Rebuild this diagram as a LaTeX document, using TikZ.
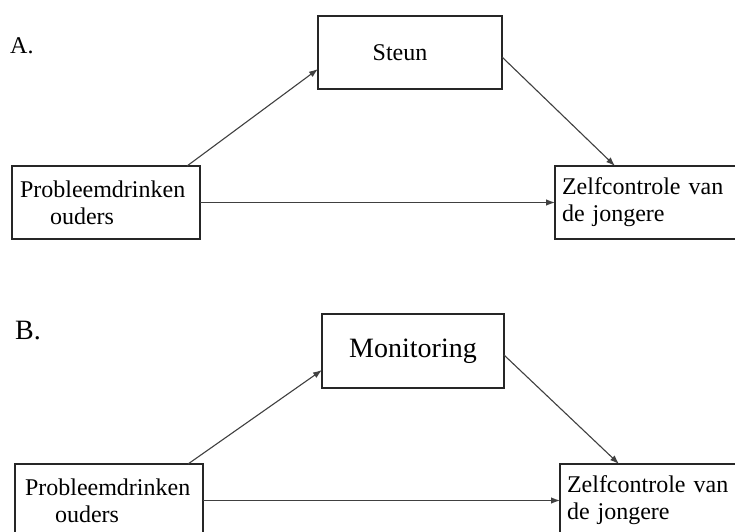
\documentclass[tikz,border=0pt]{standalone}
\usepackage{fontspec}
\setmainfont{Liberation Serif}
\usetikzlibrary{arrows.meta}
\begin{document}
\begin{tikzpicture}[x=1pt,y=-1pt,
  box/.style={draw=black!85, line width=2pt, fill=white, rectangle, outer sep=0pt,
    minimum height=73pt, text=black, font=\fontsize{24}{27}\selectfont},
  lbox/.style={box, align=left, inner xsep=#1, inner ysep=0pt},
  panel/.style={text=black, anchor=base west, inner sep=0pt},
  conn/.style={draw=black!75, line width=1.1pt, -{Latex[length=9pt,width=6.5pt]}}]
\useasboundingbox (0,0) rectangle (735,531);
\clip (0,0) rectangle (735,531);
\fill[white] (0,0) rectangle (735,531);
% Panel A
\node[panel, font=\fontsize{24}{27}\selectfont] (labA) at (10,53) {A.};
\node[box, minimum width=184pt] (steun) at (410,52.5) {Steun\hspace*{20pt}};
\node[lbox=8pt, minimum width=188pt, text width=172pt] (pA) at (106,202.5) {Probleemdrinken\\\hspace*{30pt}ouders};
\node[lbox=7pt, minimum width=190pt, text width=176pt] (zA) at (650,202.5) {Zelfcontrole van\\de jongere};
\draw[conn] ([xshift=175pt]pA.north west) -- ([yshift=20pt]steun.south west);
\draw[conn] ([yshift=-41pt]steun.north east) -- ([xshift=60pt]zA.north west);
\draw[conn] (pA.east) -- (zA.west);
% Panel B
\node[panel, font=\fontsize{28}{30}\selectfont] (labB) at (15,339) {B.};
\node[box, minimum width=182pt, minimum height=74pt, font=\fontsize{28}{30}\selectfont] (mon) at (413,351) {Monitoring};
\node[lbox=10pt, minimum width=188pt, text width=168pt] (pB) at (109,500.5) {Probleemdrinken\\\hspace*{30pt}ouders};
\node[lbox=7pt, minimum width=190pt, text width=176pt] (zB) at (655,500.5) {Zelfcontrole van\\de jongere};
\draw[conn] ([xshift=173pt]pB.north west) -- ([yshift=18pt]mon.south west);
\draw[conn] ([yshift=-41pt]mon.north east) -- ([xshift=59pt]zB.north west);
\draw[conn] (pB.east) -- (zB.west);
\end{tikzpicture}
\end{document}
